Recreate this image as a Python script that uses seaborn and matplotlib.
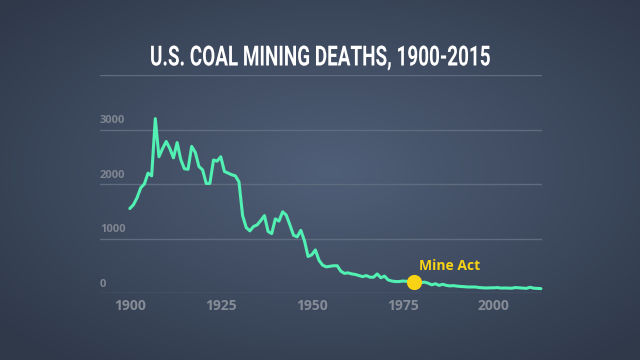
import numpy as np
import matplotlib
matplotlib.use("Agg")
import matplotlib.pyplot as plt
import matplotlib.transforms as mtransforms
import matplotlib.patheffects as pe
import seaborn as sns

# Deaths per year
years = list(range(1900, 2014))
deaths = [
    1550, 1620, 1750, 1930, 2000, 2200, 2150, 3200, 2500, 2650,  # 1900s
    2780, 2650, 2480, 2760, 2450, 2280, 2270, 2690, 2580, 2320,  # 1910s
    2260, 2010, 2010, 2440, 2420, 2500, 2230, 2200, 2170, 2150,  # 1920s
    2040, 1420, 1200, 1140, 1220, 1250, 1330, 1420, 1130, 1090,  # 1930s
    1360, 1320, 1490, 1430, 1250, 1060, 1030, 1150, 960, 670,    # 1940s
    700, 790, 600, 510, 480, 490, 500, 500, 400, 360,            # 1950s
    370, 350, 340, 320, 300, 320, 290, 290, 350, 280,            # 1960s
    310, 240, 220, 210, 210, 220, 215, 210, 200, 210,            # 1970s
    190, 200, 180, 150, 170, 140, 160, 140, 130, 135,            # 1980s
    125, 120, 115, 110, 110, 110, 100, 95, 92, 95,               # 1990s
    95, 100, 90, 92, 90, 88, 100, 95, 90, 85,                    # 2000s
    105, 88, 85, 80,                                             # 2010s
]
xtick_years = [1900, 1925, 1950, 1975, 2000]
ytick_values = [0, 1000, 2000, 3000]
grid_values = [0, 1000, 2000, 3000, 4000]
event_year = 1978
event_value = 200
event_label = "Mine Act"
title = "U.S. COAL MINING DEATHS, 1900-2015"

line_color = "#52f0b2"
event_color = "#f8d315"
label_gray = "#868c97"


class Squeeze(pe.AbstractPathEffect):
    """Draw text narrower around a given x (display pixels), like a condensed face."""

    def __init__(self, sx=1.0, cx=0.0):
        super().__init__()
        self.sx = sx
        self.cx = cx

    def draw_path(self, renderer, gc, tpath, affine, rgbFace=None):
        squeeze = mtransforms.Affine2D().translate(-self.cx, 0).scale(self.sx, 1).translate(self.cx, 0)
        renderer.draw_path(gc, tpath, affine + squeeze, rgbFace)


sns.set_theme(style="white")
plt.rcParams["font.family"] = ["Open Sans", "DejaVu Sans"]

fig = plt.figure(figsize=(6.4, 3.6), dpi=100)

# radial gradient background
bg = fig.add_axes([0, 0, 1, 1], zorder=-10)
gx, gy = np.meshgrid(np.linspace(-1, 1, 640), np.linspace(-1, 1, 360))
r = np.sqrt((gx - 0.03) ** 2 + (gy + 0.05) ** 2)
r = np.clip(r / 1.35, 0, 1)
c_in = np.array([0x50, 0x5f, 0x78]) / 255
c_out = np.array([0x2f, 0x39, 0x4a]) / 255
img = c_in[None, None, :] * (1 - r[..., None]) + c_out[None, None, :] * r[..., None]
bg.imshow(img, aspect="auto", extent=[0, 1, 0, 1])
bg.set_axis_off()

ax = fig.add_axes([100 / 640, 67 / 360, 442 / 640, 218 / 360])
ax.set_facecolor("none")
ax.set_xlim(1891.8, 2013.3)
ax.set_ylim(0, 4000)

for g in grid_values:
    ax.axhline(g, color="#5f6b7e", linewidth=1, zorder=1)

sns.lineplot(x=years, y=deaths, ax=ax, color=line_color, linewidth=2.2,
             zorder=3, clip_on=False)
ax.lines[-1].set_solid_joinstyle("round")
ax.lines[-1].set_solid_capstyle("round")

ax.scatter([event_year], [event_value], s=120, color=event_color,
           zorder=4, linewidths=0, clip_on=False)
ax.annotate(event_label, xy=(event_year, event_value), xytext=(4, 9),
            textcoords="offset points", color=event_color, fontsize=10,
            fontweight="bold", ha="left", va="baseline")

ax.set_xticks(xtick_years)
ax.set_xticklabels([str(y) for y in xtick_years], color=label_gray,
                   fontsize=10, fontweight="bold")
ax.tick_params(axis="x", length=0, pad=4)
ax.set_yticks([])
trans = mtransforms.blended_transform_factory(ax.transAxes, ax.transData)
for v in ytick_values:
    ax.annotate(str(v), xy=(0, v), xycoords=trans, xytext=(0, 4.5),
                textcoords="offset points", color="#7f8692", fontsize=8,
                fontweight="bold", ha="left", va="baseline")

for s in ax.spines.values():
    s.set_visible(False)
ax.set_xlabel("")
ax.set_ylabel("")

# title: tall bold face squeezed to the width of the condensed original
ttl = fig.text(0.5, 1 - 58 / 360, title, ha="center", va="center", color="white",
               fontsize=20, fontweight="bold", family=["Roboto", "DejaVu Sans"])
fig.canvas.draw()
tw = ttl.get_window_extent().width
ttl.set_path_effects([Squeeze(sx=340 / tw, cx=320)])

fig.savefig("out.png", dpi=100)
